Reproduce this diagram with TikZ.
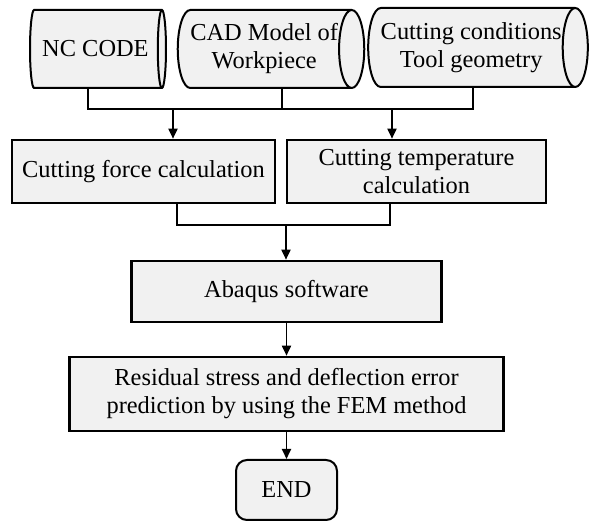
\documentclass[tikz,border=0pt]{standalone}
\usepackage{fontspec}
\setmainfont{Liberation Serif}
\usetikzlibrary{shapes.geometric, arrows.meta}
\definecolor{boxgray}{RGB}{241,241,241}
\tikzstyle{datain} = [cylinder, shape aspect=0.5, draw=black, line width=2pt, fill=boxgray, align=center, inner sep=0pt, minimum width=78pt]
\tikzstyle{process} = [rectangle, draw=black, line width=2.6pt, fill=boxgray, align=center, inner sep=0pt]
\tikzstyle{startstop} = [rectangle, rounded corners=11pt, draw=black, line width=2pt, fill=boxgray, inner sep=0pt, minimum width=101pt, minimum height=60pt]
\tikzstyle{line} = [line width=1.8pt]
\tikzstyle{arrow} = [line width=1.8pt, -{Triangle[length=10pt,width=9pt]}]

\begin{document}
\begin{tikzpicture}[x=1pt, y=1pt, node distance=100pt, font=\fontsize{24.4}{28}\selectfont]
				\useasboundingbox (0,0) rectangle (590,521);
				%----------------------------------------------------%
				\node(nc) [datain, minimum height=136pt, anchor=shape center] at (98,472) {NC CODE};
				\node(cad) [datain, minimum height=180pt, anchor=shape center] at (271,472) {CAD Model of\\Workpiece};
				\node(cc) [datain, minimum height=216pt, minimum width=79pt, anchor=shape center] at (478,473.5) {Cutting conditions\\Tool geometry};
				
				\coordinate (ncdrop) at (88,412);
				\coordinate (caddrop) at (282,412);
				\coordinate (ccdrop) at (473,412);
				\coordinate (busL) at (173,412);
				\coordinate (busR) at (392,412);
				\draw[line] (ncdrop |- nc.south) -- (ncdrop) -- (ccdrop) -- (ccdrop |- cc.south);
				\draw[line] (caddrop |- cad.south) -- (caddrop);
				
				%----------------------------------------------------%
				\node(force) [process, minimum width=263pt, minimum height=63pt] at (143.5,349.5) {Cutting force calculation};
				\node(temp) [process, minimum width=259pt, minimum height=63pt] at (416.5,349.5) {Cutting temperature\\calculation};
				
				\draw[arrow] (busL) -- (busL |- force.north);
				\draw[arrow] (busR) -- (busR |- temp.north);
				
				\coordinate (fdrop) at (177,296);
				\coordinate (tdrop) at (390,296);
				\coordinate (busM) at (286,296);
				\draw[line] (fdrop |- force.south) -- (fdrop) -- (tdrop) -- (tdrop |- temp.south);
				
				%----------------------------------------------------%
				\node(abaqus) [process, minimum width=310pt, minimum height=61pt] at (286.5,229.5) {Abaqus software};
				\node(fem) [process, below of=abaqus, yshift=-2.5pt, minimum width=434pt, minimum height=74pt] {Residual stress and deflection error\\prediction by using the FEM method};
				\node(finish) [startstop, below of=fem, yshift=4pt] {END};
				
				\draw[arrow] (busM) -- (busM |- abaqus.north);
				\draw[arrow] (abaqus) -- (fem);
				\draw[arrow] (fem) -- (finish);
			\end{tikzpicture}
\end{document}
